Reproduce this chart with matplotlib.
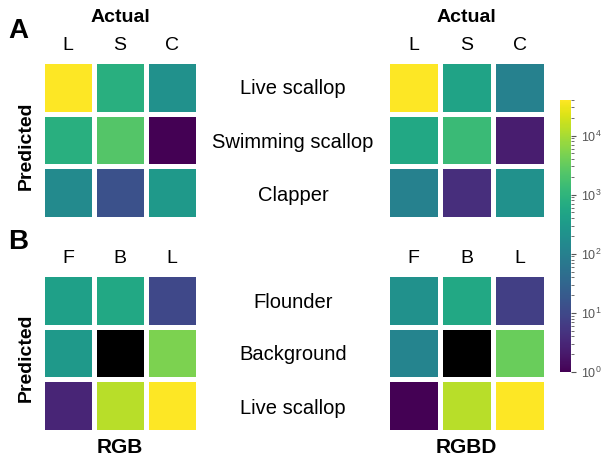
import numpy as np
import matplotlib
matplotlib.use("Agg")
import matplotlib.pyplot as plt
from matplotlib.colors import LogNorm

plt.rcParams['font.family'] = ['Liberation Sans', 'DejaVu Sans']

# confusion matrices (rows = predicted, cols = actual); nan = masked cell
scallop_cols = ["L", "S", "C"]
scallop_rows = ["Live scallop", "Swimming scallop", "Clapper"]
scallop_rgb = np.array([[40000, 800, 200],
                        [800, 2300, 1],
                        [150, 14, 300]], dtype=float)
scallop_rgbd = np.array([[40000, 470, 100],
                         [575, 1300, 2.3],
                         [100, 4, 200]], dtype=float)

flounder_cols = ["F", "B", "L"]
flounder_rows = ["Flounder", "Background", "Live scallop"]
flounder_rgb = np.array([[400, 575, 10],
                         [300, np.nan, 5000],
                         [3, 13000, 40000]], dtype=float)
flounder_rgbd = np.array([[200, 575, 7],
                          [120, np.nan, 3500],
                          [1, 13000, 40000]], dtype=float)

W, H = 602, 461
fig = plt.figure(figsize=(W / 100, H / 100), dpi=100)

cmap = plt.get_cmap("viridis").copy()
cmap.set_bad("black")
norm = LogNorm(vmin=1, vmax=40000)


def px_axes(x0, y0, x1, y1):
    return fig.add_axes([x0 / W, 1 - y1 / H, (x1 - x0) / W, (y1 - y0) / H])


def heat(box, data, cols):
    ax = px_axes(*box)
    mesh = ax.pcolormesh(data, cmap=cmap, norm=norm, edgecolors="white", linewidth=2.5)
    ax.set_xlim(0, 3)
    ax.set_ylim(3, 0)
    ax.xaxis.tick_top()
    ax.set_xticks(np.arange(3) + 0.5)
    ax.set_xticklabels(cols, fontsize=14)
    ax.tick_params(length=0, pad=5)
    ax.set_yticks([])
    for s in ax.spines.values():
        s.set_visible(False)
    return mesh


mesh = heat((42, 61, 198, 219), scallop_rgb, scallop_cols)
heat((387, 61, 546, 219), scallop_rgbd, scallop_cols)
heat((42, 274, 198, 432), flounder_rgb, flounder_cols)
heat((387, 274, 546, 432), flounder_rgbd, flounder_cols)

# row names between the two columns of matrices
for i, name in enumerate(scallop_rows):
    fig.text(293 / W, 1 - (89 + i * 53) / H, name, ha="center", va="center", fontsize=14.5)
for i, name in enumerate(flounder_rows):
    fig.text(293 / W, 1 - (302 + i * 53) / H, name, ha="center", va="center", fontsize=14.5)

fig.text(8 / W, 1 - 31 / H, "A", fontsize=20, fontweight="bold", va="center")
fig.text(8 / W, 1 - 242 / H, "B", fontsize=20, fontweight="bold", va="center")
fig.text(120 / W, 1 - 18 / H, "Actual", fontsize=14, fontweight="bold", ha="center", va="center")
fig.text(466 / W, 1 - 18 / H, "Actual", fontsize=14, fontweight="bold", ha="center", va="center")
fig.text(26 / W, 1 - 146 / H, "Predicted", fontsize=14, fontweight="bold", rotation=90,
         ha="center", va="center")
fig.text(26 / W, 1 - 358 / H, "Predicted", fontsize=14, fontweight="bold", rotation=90,
         ha="center", va="center")
fig.text(120 / W, 1 - 447 / H, "RGB", fontsize=15, fontweight="bold", ha="center", va="center")
fig.text(466 / W, 1 - 447 / H, "RGBD", fontsize=15, fontweight="bold", ha="center", va="center")

cax = px_axes(560, 100, 571, 372)
cb = fig.colorbar(mesh, cax=cax)
cb.outline.set_visible(False)
cb.ax.tick_params(labelsize=9, colors="#555555", width=0.8)
cb.ax.tick_params(which="minor", colors="#555555", width=0.6)

fig.savefig("out.png", dpi=100)
